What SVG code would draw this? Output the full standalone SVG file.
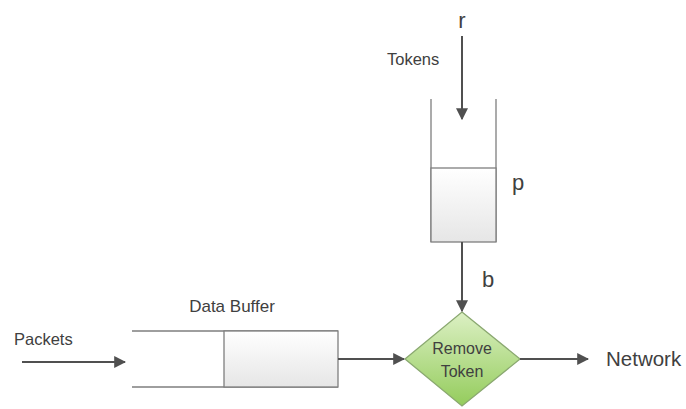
<svg xmlns="http://www.w3.org/2000/svg" width="686" height="409" viewBox="0 0 686 409">
  <style>
    .lbl { font-family: "Liberation Sans", Arial, sans-serif; fill: #404040; }
    .wall { fill: none; stroke: #7f7f7f; stroke-width: 1.3; }
    .box { fill: url(#boxFill); stroke: #7f7f7f; stroke-width: 1.3; }
    .conn { fill: none; stroke: #505050; stroke-width: 2; marker-end: url(#arrow); }
  </style>
  <defs>
    <linearGradient id="boxFill" x1="0" y1="0" x2="0" y2="1">
      <stop offset="0" stop-color="#ffffff"/>
      <stop offset="1" stop-color="#e6e6e6"/>
    </linearGradient>
    <linearGradient id="diamondFill" x1="0" y1="0" x2="0" y2="1">
      <stop offset="0" stop-color="#dcf0c4"/>
      <stop offset="1" stop-color="#94cc5c"/>
    </linearGradient>
    <marker id="arrow" viewBox="0 0 10 10" refX="9" refY="5" markerWidth="6" markerHeight="6" orient="auto" markerUnits="strokeWidth">
      <path d="M0,0 L10,5 L0,10 Z" fill="#505050"/>
    </marker>
  </defs>

  <!-- token bucket -->
  <g id="bucket">
    <path class="wall" d="M431,99 V242 M496,99 V242"/>
    <rect class="box" x="431" y="168" width="65" height="74"/>
    <text class="lbl" x="462" y="28" font-size="22" text-anchor="middle">r</text>
    <text class="lbl" x="387" y="65" font-size="16.5">Tokens</text>
    <text class="lbl" x="512" y="190" font-size="22">p</text>
    <text class="lbl" x="482" y="287" font-size="22">b</text>
  </g>

  <!-- data buffer -->
  <g id="buffer">
    <path class="wall" d="M132,331 H338 M132,387 H338"/>
    <rect class="box" x="224" y="331" width="114" height="56"/>
    <text class="lbl" x="232" y="312" font-size="17" text-anchor="middle">Data Buffer</text>
  </g>

  <g id="packets">
    <text class="lbl" x="14" y="345" font-size="16.5">Packets</text>
  </g>

  <!-- decision -->
  <g id="remove-token">
    <polygon points="462,312 520,359 462,406 405,359" fill="url(#diamondFill)" stroke="#8aa870" stroke-width="1.3"/>
    <text class="lbl" x="462" y="354" font-size="16" text-anchor="middle">Remove</text>
    <text class="lbl" x="462" y="377" font-size="16" text-anchor="middle">Token</text>
  </g>

  <g id="network">
    <text class="lbl" x="606" y="366" font-size="20.5">Network</text>
  </g>

  <!-- connectors -->
  <g id="connectors">
    <line class="conn" x1="462" y1="36" x2="462" y2="119"/>
    <line class="conn" x1="462" y1="242" x2="462" y2="311"/>
    <line class="conn" x1="22" y1="362" x2="125" y2="362"/>
    <line class="conn" x1="338" y1="359" x2="404" y2="359"/>
    <line class="conn" x1="520" y1="359" x2="588" y2="359"/>
  </g>
</svg>
